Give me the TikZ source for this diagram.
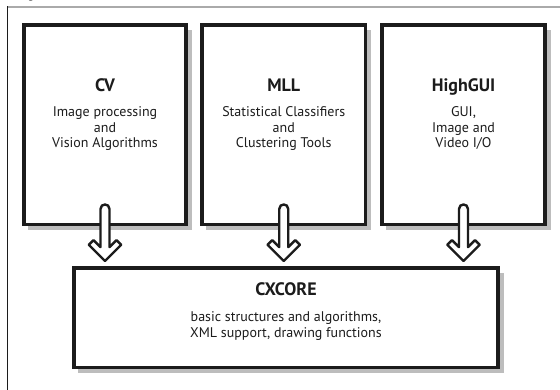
\documentclass[tikz,border=0pt]{standalone}
\usepackage{fontspec}
\setmainfont{PT Sans}
\usetikzlibrary{calc}
\definecolor{ink}{HTML}{1C1C1C}
\definecolor{shade}{HTML}{BDBDBD}
\tikzset{
  box/.style={draw=ink, line width=3.8pt, fill=white},
  boxshadow/.style={fill=shade},
  harrow/.style={draw=ink, line width=2.4pt, fill=white, line join=round},
  ttl/.style={font=\bfseries\fontsize{18}{20}\selectfont, anchor=base, inner sep=0pt, text=ink},
  txt/.style={font=\fontsize{14}{15}\selectfont, anchor=base, inner sep=0pt, text=ink},
}
\newcommand{\hollowarrow}[2]{%
  \path (#1.south |- #2.north) coordinate (ha-t) (#1.south) coordinate (ha-s);
  \draw[harrow] ($(ha-t)+(0,-7)$) -- ($(ha-t)+(-16.2,-23.2)$) -- ($(ha-t)+(-11.5,-27.9)$)
    -- ($(ha-t)+(-4.5,-20.9)$) -- ($(ha-s)+(-4.5,-15.5)$)
    .. controls ($(ha-s)+(-4.5,-21.5)$) and ($(ha-s)+(4.5,-21.5)$) .. ($(ha-s)+(4.5,-15.5)$)
    -- ($(ha-t)+(4.5,-20.9)$) -- ($(ha-t)+(11.5,-27.9)$) -- ($(ha-t)+(16.2,-23.2)$) -- cycle;}
\newcommand{\shadowbox}[6]{% name, x1,y1,x2,y2, unused
  \fill[boxshadow] (#2+4,#3+5) rectangle (#4+5.5,#5+5.5);
  \node[box, minimum width=#4-#2, minimum height=#5-#3, inner sep=0pt, outer sep=0pt]
    (#1) at ({(#2+#4)/2},{(#3+#5)/2}) {};}
\begin{document}
\begin{tikzpicture}[x=1pt,y=-1pt]
\useasboundingbox (0,0) rectangle (560,390);
\fill[white] (0,0) rectangle (560,390);
% frame fragments
\node[font=\fontsize{12}{14}\selectfont, anchor=base, inner sep=0pt, text=ink] (figg) at (31,-1) {g};
\draw[shade!90!black, line width=1.8pt] (7,7) coordinate (fa) -- (560,7) coordinate (fb);
\draw[ink, line width=1pt] (7.5,6.5) coordinate (fc) -- (7.5,390) coordinate (fd);
% boxes
\shadowbox{cv}{24}{25}{186}{224.5}{}
\shadowbox{mll}{202}{25}{365.5}{224.5}{}
\shadowbox{gui}{382}{25}{545}{224.5}{}
\shadowbox{core}{74}{268}{498}{367.5}{}
% texts
\node[ttl] (cvt) at (cv.center |- 0,91.5) {CV};
\node[txt] (cv1) at (cv.center |- 0,117) {Image processing};
\node[txt] (cv2) at (cv.center |- 0,132.5) {and};
\node[txt] (cv3) at (cv.center |- 0,148) {Vision Algorithms};
\node[ttl] (mllt) at (mll.center |- 0,91.5) {MLL};
\node[txt] (mll1) at (mll.center |- 0,117) {Statistical Classifiers};
\node[txt] (mll2) at (mll.center |- 0,132.5) {and};
\node[txt] (mll3) at (mll.center |- 0,148) {Clustering Tools};
\node[ttl] (guit) at (gui.center |- 0,91.5) {HighGUI};
\node[txt] (gui1) at (gui.center |- 0,117) {GUI,};
\node[txt] (gui2) at (gui.center |- 0,132.5) {Image and};
\node[txt] (gui3) at (gui.center |- 0,148) {Video I/O};
\node[ttl] (coret) at (core.center |- 0,295.5) {CXCORE};
\node[txt] (core1) at (core.center |- 0,322) {basic structures and algorithms,};
\node[txt] (core2) at (core.center |- 0,337.5) {XML support, drawing functions};
% arrows
\hollowarrow{cv}{core}
\hollowarrow{mll}{core}
\hollowarrow{gui}{core}
\end{tikzpicture}
\end{document}
